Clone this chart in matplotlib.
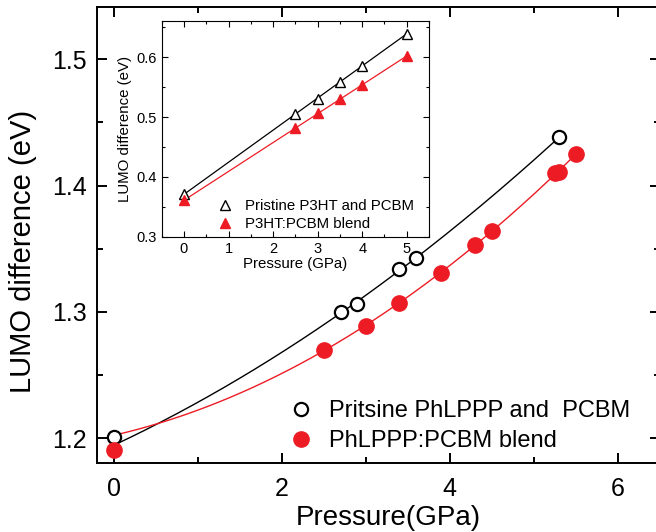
import numpy as np
import matplotlib
matplotlib.use("Agg")
import matplotlib.pyplot as plt
from matplotlib.ticker import MultipleLocator

plt.rcParams['font.family'] = ['Liberation Sans', 'DejaVu Sans']

RED = '#ED1C24'

# main panel data (PhLPPP / PCBM)
p_pristine = [0.0, 2.7, 2.9, 3.4, 3.6, 5.3]
lumo_pristine = [1.201, 1.300, 1.306, 1.334, 1.343, 1.438]
p_blend = [0.0, 2.5, 3.0, 3.4, 3.9, 4.3, 4.5, 5.25, 5.3, 5.5]
lumo_blend = [1.191, 1.270, 1.289, 1.307, 1.331, 1.353, 1.364, 1.4095, 1.411, 1.425]

# inset data (P3HT / PCBM)
p_inset = [0.0, 2.5, 3.0, 3.5, 4.0, 5.0]
lumo_p3ht = [0.371, 0.505, 0.531, 0.559, 0.586, 0.639]
lumo_p3ht_blend = [0.361, 0.481, 0.506, 0.530, 0.554, 0.602]

fig = plt.figure(figsize=(6.56, 5.32), dpi=100)
ax = fig.add_axes([0.1474, 0.1303, 0.8587, 0.856])

# quadratic fits, ambient-pressure point given little weight
w1 = np.ones(len(p_pristine)); w1[0] = 0.09
w2 = np.ones(len(p_blend)); w2[0] = 0.09
c1 = np.polyfit(p_pristine, lumo_pristine, 2, w=w1)
c2 = np.polyfit(p_blend, lumo_blend, 2, w=w2)
xf1 = np.linspace(0, max(p_pristine), 200)
xf2 = np.linspace(0, max(p_blend), 200)
ax.plot(xf1, np.polyval(c1, xf1), color='black', lw=1.0)
ax.plot(xf2, np.polyval(c2, xf2), color=RED, lw=1.0)
ax.plot(p_pristine, lumo_pristine, 'o', mfc='white', mec='black', mew=1.6, ms=9.5,
        label='Pritsine PhLPPP and  PCBM')
ax.plot(p_blend, lumo_blend, 'o', color=RED, ms=11, label='PhLPPP:PCBM blend')

ax.set_xlim(-0.2, 6.5)
ax.set_ylim(1.1807, 1.541)
ax.xaxis.set_major_locator(MultipleLocator(2))
ax.xaxis.set_minor_locator(MultipleLocator(1))
ax.yaxis.set_major_locator(MultipleLocator(0.1))
ax.yaxis.set_minor_locator(MultipleLocator(0.05))
ax.tick_params(which='both', direction='in', top=True, right=True, width=1.4, labelsize=18)
ax.tick_params(which='major', length=7)
ax.tick_params(which='minor', length=4)
ax.tick_params(axis='y', pad=7)
ax.tick_params(axis='x', pad=10)
for s in ax.spines.values():
    s.set_linewidth(1.4)
ax.set_xlabel('Pressure(GPa)', fontsize=20)
ax.set_ylabel('LUMO difference (eV)', fontsize=21)
ax.xaxis.set_label_coords(0.517, -0.093)
ax.yaxis.set_label_coords(-0.106, 0.463)
ax.legend(loc='lower left', bbox_to_anchor=(0.341, 0.0235), frameon=False, fontsize=17,
          handlelength=1.0, handletextpad=0.7, labelspacing=0.32, borderpad=0,
          borderaxespad=0)

# inset
ins = fig.add_axes([0.2465, 0.555, 0.4075, 0.406])
a1, b1 = np.polyfit(p_inset, lumo_p3ht, 1)
a2, b2 = np.polyfit(p_inset, lumo_p3ht_blend, 1)
xi = np.array([0.0, 5.0])
ins.plot(xi, a1 * xi + b1, color='black', lw=0.9)
ins.plot(xi, a2 * xi + b2, color=RED, lw=0.9)
ins.plot(p_inset, lumo_p3ht, '^', mfc='white', mec='black', mew=1.0, ms=6.5,
         label='Pristine P3HT and PCBM')
ins.plot(p_inset, lumo_p3ht_blend, '^', color=RED, ms=7, label='P3HT:PCBM blend')
ins.set_xlim(-0.5, 5.5)
ins.set_ylim(0.3, 0.661)
ins.xaxis.set_major_locator(MultipleLocator(1))
ins.xaxis.set_minor_locator(MultipleLocator(0.5))
ins.yaxis.set_major_locator(MultipleLocator(0.1))
ins.yaxis.set_minor_locator(MultipleLocator(0.05))
ins.tick_params(which='both', direction='in', top=True, right=True, width=0.8, labelsize=10.5)
ins.tick_params(which='major', length=4)
ins.tick_params(which='minor', length=2.5)
for s in ins.spines.values():
    s.set_linewidth(0.8)
ins.set_xlabel('Pressure (GPa)', fontsize=10.8, labelpad=1)
ins.set_ylabel('LUMO difference (eV)', fontsize=10.8, labelpad=3)
ins.legend(loc='lower left', bbox_to_anchor=(0.209, 0.026), frameon=False, fontsize=10.8,
           handlelength=1.0, handletextpad=0.83, labelspacing=0.25, borderpad=0,
           borderaxespad=0)

fig.savefig('out.png', dpi=100)
